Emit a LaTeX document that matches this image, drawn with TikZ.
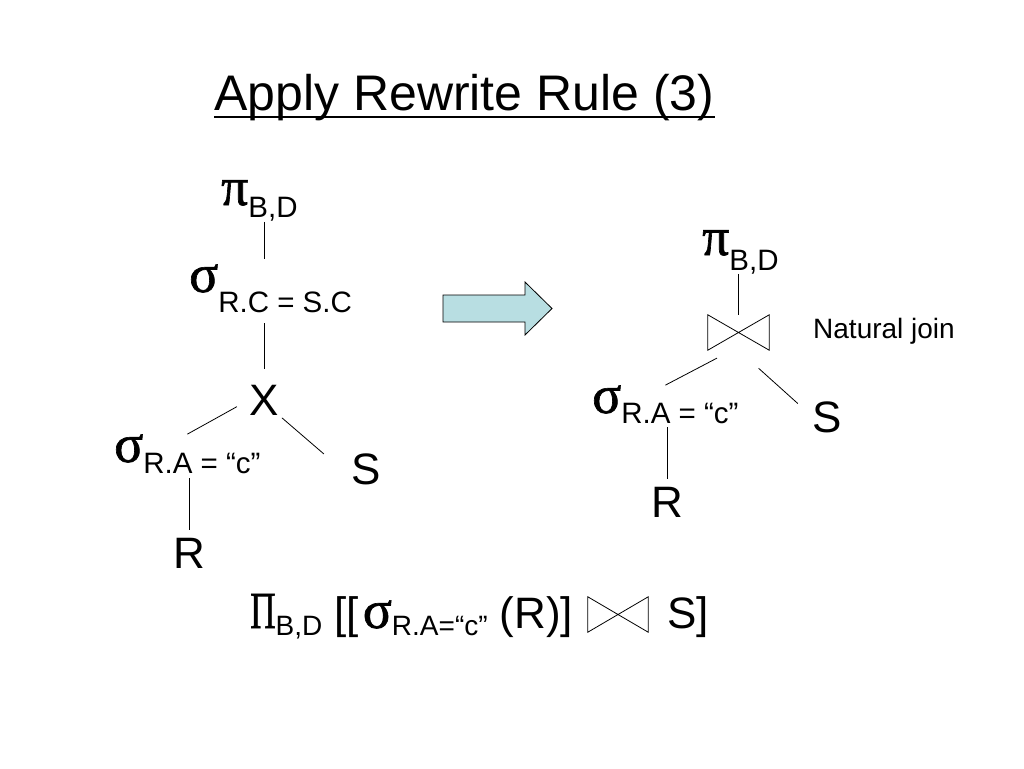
\documentclass[tikz,border=0pt]{standalone}
\usepackage{fontspec}
\setmainfont{Liberation Sans}
\newfontfamily\grk[FakeBold=1.2]{Liberation Serif}
\definecolor{arrowfill}{RGB}{184,222,226}
% greek operator letter and its subscript
\newcommand\gr[1]{{\grk\fontsize{54}{56}\selectfont #1}}
\newcommand\sub[2][12pt]{\raisebox{-#1}{\fontsize{29.5}{32}\selectfont #2}}
% subscript inside the algebra line
\newcommand\fsub[1]{\raisebox{-7pt}{\fontsize{28}{30}\selectfont #1}}
% natural join sign drawn round a node
\newcommand\drawjoin[1]{\draw[line width=0.8pt] (#1.north west) -- (#1.south west) -- (#1.north east) -- (#1.south east) -- cycle;}
\tikzset{
	op/.style={inner sep=0pt, anchor=base west, font=\fontsize{44}{48}\selectfont},
	rel/.style={inner sep=0pt, anchor=base, font=\fontsize{44}{48}\selectfont},
	joinbox/.style={inner sep=0pt, minimum width=61pt, minimum height=35pt},
	link/.style={line width=0.8pt},
}
\begin{document}
\begin{tikzpicture}[x=1pt, y=-1pt]
	\useasboundingbox[fill=white] (0,0) rectangle (1024,768);

	\node[op, font=\fontsize{50}{54}\selectfont] (title) at (214,110) {Apply Rewrite Rule (3)};
	\draw[line width=2.5pt] ([yshift=-7pt]title.base west) -- ([yshift=-7pt]title.base east);

	% left tree
	\node[op] (lpi) at (221,205) {\gr{π}\sub{B,D}};
	\node[op] (lsigc) at (189,292) {\gr{σ}\sub[20pt]{R.C = S.C}};
	\node[rel] (lx) at (264,415) {X};
	\node[op] (lsiga) at (114,462) {\gr{σ}\sub[11pt]{R.A = “c”}};
	\node[rel] (ls) at (366,484) {S};
	\node[rel] (lr) at (189,568) {R};
	\draw[link, shorten <=1pt, shorten >=5pt] (lx.north |- lpi.south) -- (lx.north |- lsigc.north);
	\draw[link, shorten <=11pt, shorten >=16pt] (lx.north |- lsigc.south) -- (lx.north);
	\draw[link, shorten <=14pt] (lx.west) -- (lsiga.north);
	\draw[link, shorten <=4pt, shorten >=36pt] (lx.south east) -- (ls.210);
	\draw[link, shorten <=5pt, shorten >=8pt] (lr.north |- lsiga.south) -- (lr.north);

	% rewrite arrow
	\draw[fill=arrowfill, line width=0.8pt] (443,295) -- (525,295) -- (525,282) -- (552,308.5) -- (525,335) -- (525,322) -- (443,322) -- cycle;

	% right tree
	\node[op] (rpi) at (702,255) {\gr{π}\sub[15pt]{B,D}};
	\node[joinbox] (rjoin) at (738.5,332.5) {};
	\drawjoin{rjoin}
	\node[op, font=\fontsize{28}{30}\selectfont] (natlabel) at (813,338) {Natural join};
	\node[op] (rsiga) at (592,413) {\gr{σ}\sub[10pt]{R.A = “c”}};
	\node[rel] (rs) at (827.5,432) {S};
	\node[rel] (rr) at (667,517) {R};
	\draw[link] (rjoin.north |- rpi.south) -- (rjoin.north);
	\draw[link, shorten <=17pt] (rjoin.250) -- (rsiga.north);
	\draw[link, shorten <=27pt, shorten >=20pt] (rjoin.south) -- (rs.west);
	\draw[link, shorten <=4pt, shorten >=8pt] (rr.north |- rsiga.south) -- (rr.north);

	% algebra expression
	\node[op] (fexpr) at (250,628) {{\grk\fontsize{52}{54}\selectfont\scalebox{0.68}[1]{Π}}\fsub{B,D}\hspace{12pt}[[\hspace{4pt}\gr{σ}\fsub{R.A=“c”}\hspace{12pt}(R)]};
	\node[joinbox, minimum width=60pt] (fjoin) at (618,614.5) {};
	\drawjoin{fjoin}
	\node[op] (fs) at (667,628) {S]};
\end{tikzpicture}
\end{document}
